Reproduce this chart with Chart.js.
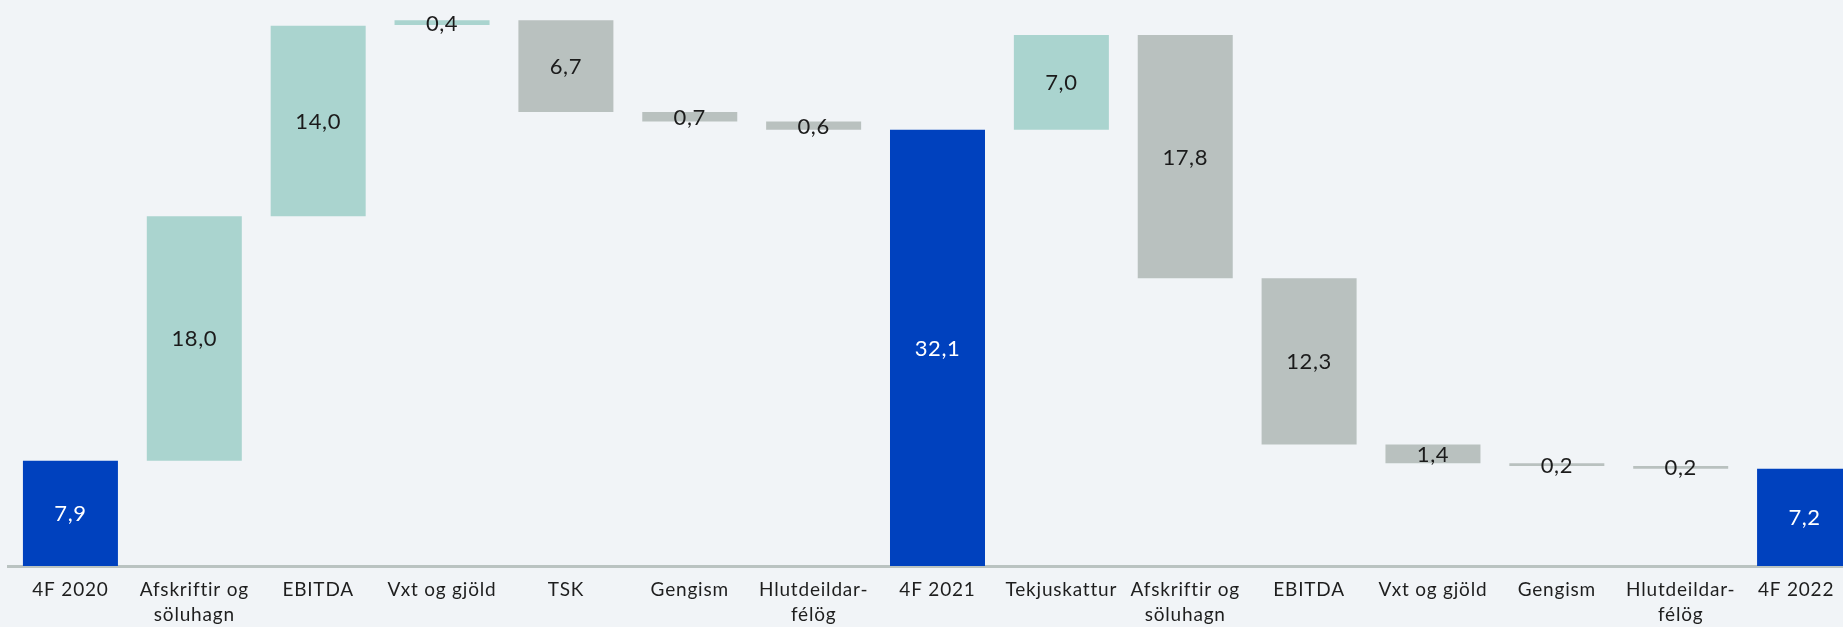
<!DOCTYPE html>
<html lang="is">
<head>
  <meta charset="UTF-8">
  <title>Brú</title>
  <script src="https://cdn.jsdelivr.net/npm/chart.js"></script>
  <style>
    html, body {
      margin: 0;
      padding: 0;
      overflow: hidden;
      background: #f1f4f7;
    }

    #chart-container {
      width: 1870px;
      height: 627px;
    }
  </style>
</head>
<body>
  <div id="chart-container">
    <canvas id="bridgeChart"></canvas>
  </div>

  <script>
const categories = [
  "4F 2020", ["Afskriftir og", "söluhagn"], "EBITDA", "Vxt og gjöld", "TSK", "Gengism",
  ["Hlutdeildar-", "félög"], "4F 2021", "Tekjuskattur", ["Afskriftir og", "söluhagn"],
  "EBITDA", "Vxt og gjöld", "Gengism", ["Hlutdeildar-", "félög"], "4F 2022"
];
// bar bottoms and tops
const barStart = [0, 7.8, 25.9, 40.05, 33.6, 32.9, 32.3, 0, 32.3, 21.3, 9.0, 7.6, 7.4, 7.2, 0];
const barEnd   = [7.8, 25.9, 40.0, 40.4, 40.4, 33.6, 32.9, 32.3, 39.3, 39.3, 21.3, 9.0, 7.6, 7.4, 7.2];
const valueLabels = ["7,9", "18,0", "14,0", "0,4", "6,7", "0,7", "0,6", "32,1",
                     "7,0", "17,8", "12,3", "1,4", "0,2", "0,2", "7,2"];
const barKind = ["total", "up", "up", "up", "down", "down", "down", "total",
                 "up", "down", "down", "down", "down", "down", "total"];

const kindColor = { total: "#0041be", up: "#aad4cf", down: "#b9c1bf" };
const FONT = "Lato, 'Noto Sans', sans-serif";

// a little extra tracking, the original font runs wider than Lato
const tracking = {
  id: "tracking",
  beforeDraw(chart) {
    chart.ctx.letterSpacing = "0.8px";
  }
};

// labels centred on every bar
const barLabels = {
  id: "barLabels",
  afterDatasetsDraw(chart) {
    const ctx = chart.ctx;
    const meta = chart.getDatasetMeta(0);
    ctx.save();
    ctx.letterSpacing = "0.6px";
    ctx.font = "22px " + FONT;
    ctx.textAlign = "center";
    ctx.textBaseline = "middle";
    meta.data.forEach((bar, i) => {
      const p = bar.getProps(["x", "y", "base"], true);
      ctx.fillStyle = barKind[i] === "total" ? "#ffffff" : "#1b1b1b";
      ctx.fillText(valueLabels[i], p.x, (p.y + p.base) / 2 + 1);
    });
    ctx.restore();
  }
};

const ranges = barStart.map((s, i) => [s, barEnd[i]]);

new Chart(document.getElementById("bridgeChart"), {
  type: "bar",
  data: {
    labels: categories,
    datasets: [{
      data: ranges,
      backgroundColor: barKind.map(k => kindColor[k]),
      categoryPercentage: 1,
      barPercentage: 0.767,
      borderSkipped: false
    }]
  },
  options: {
    responsive: true,
    maintainAspectRatio: false,
    animation: false,
    layout: { padding: { left: 8.5, right: 3.5, top: 0, bottom: 0 } },
    plugins: {
      legend: { display: false },
      tooltip: { enabled: false }
    },
    scales: {
      x: {
        grid: { display: false, drawTicks: false },
        border: { display: true, color: "#bac3c1", width: 3 },
        ticks: {
          color: "#1e1e1e",
          font: { family: FONT, size: 19, lineHeight: 1.3 },
          padding: 12,
          maxRotation: 0,
          autoSkip: false,
          // last label is nudged left so it stays inside the window
          callback: function (value, index) {
            const lbl = this.getLabelForValue(value);
            return index === categories.length - 1 ? lbl + "   " : lbl;
          }
        },
        afterFit: s => { s.height = 61; }
      },
      y: {
        display: false,
        min: 0,
        max: 41.9
      }
    }
  },
  plugins: [tracking, barLabels]
});
  </script>
</body>
</html>
